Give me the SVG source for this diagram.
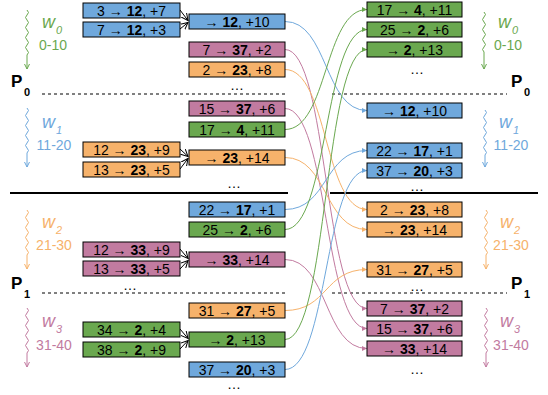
<svg xmlns="http://www.w3.org/2000/svg" width="548" height="395" viewBox="0 0 548 395">
<style>
text{font-family:"Liberation Sans",Arial,sans-serif;}
.bx text{font-size:14px;text-anchor:middle;fill:#000;}
.b{font-weight:bold;}
rect{stroke:#000;stroke-width:1;}
.blue rect{fill:#6fa8dc;}
.green rect{fill:#6aa84f;}
.orange rect{fill:#f6b26b;}
.pink rect{fill:#c27ba0;}
.c{fill:none;stroke-width:1;}
.cb{stroke:#6fa8dc;}.cg{stroke:#6aa84f;}.co{stroke:#f6b26b;}.cp{stroke:#c27ba0;}
.k{fill:none;stroke:#000;stroke-width:1;}
.dots{font-size:14px;text-anchor:middle;}
.P{font-size:17px;font-weight:bold;}
.Ps{font-size:11px;font-weight:bold;}
.w{font-size:18px;font-style:italic;}
.ws{font-size:11px;font-style:italic;}
.rng{font-size:14px;text-anchor:middle;}
.wave{fill:none;stroke-width:1;}
</style>
<defs>
<marker id="ab" markerWidth="6" markerHeight="6" refX="5" refY="3" orient="auto" markerUnits="userSpaceOnUse"><path d="M0,0.5 L5,3 L0,5.5 z" fill="#6fa8dc"/></marker>
<marker id="ag" markerWidth="6" markerHeight="6" refX="5" refY="3" orient="auto" markerUnits="userSpaceOnUse"><path d="M0,0.5 L5,3 L0,5.5 z" fill="#6aa84f"/></marker>
<marker id="ao" markerWidth="6" markerHeight="6" refX="5" refY="3" orient="auto" markerUnits="userSpaceOnUse"><path d="M0,0.5 L5,3 L0,5.5 z" fill="#f6b26b"/></marker>
<marker id="ap" markerWidth="6" markerHeight="6" refX="5" refY="3" orient="auto" markerUnits="userSpaceOnUse"><path d="M0,0.5 L5,3 L0,5.5 z" fill="#c27ba0"/></marker>
<marker id="ak" markerWidth="8" markerHeight="8" refX="7" refY="4" orient="auto" markerUnits="userSpaceOnUse"><path d="M0,0.5 L7,4 L0,7.5" fill="none" stroke="#000" stroke-width="1"/></marker>
<marker id="wb" markerWidth="6" markerHeight="6" refX="3" refY="5" orient="0" markerUnits="userSpaceOnUse"><path d="M0.5,0 L3,5 L5.5,0" fill="none" stroke="#6fa8dc"/></marker>
<marker id="wg" markerWidth="6" markerHeight="6" refX="3" refY="5" orient="0" markerUnits="userSpaceOnUse"><path d="M0.5,0 L3,5 L5.5,0" fill="none" stroke="#6aa84f"/></marker>
<marker id="wo" markerWidth="6" markerHeight="6" refX="3" refY="5" orient="0" markerUnits="userSpaceOnUse"><path d="M0.5,0 L3,5 L5.5,0" fill="none" stroke="#f6b26b"/></marker>
<marker id="wp" markerWidth="6" markerHeight="6" refX="3" refY="5" orient="0" markerUnits="userSpaceOnUse"><path d="M0.5,0 L3,5 L5.5,0" fill="none" stroke="#c27ba0"/></marker>
</defs>

<g id="separators">
<path d="M42,94 H288 M332,94 H507" stroke="#000" stroke-width="1" stroke-dasharray="3,3"/>
<path d="M10,193 H288 M330,193 H538" stroke="#000" stroke-width="2"/>
<path d="M42,293 H288 M332,293 H507" stroke="#000" stroke-width="1" stroke-dasharray="3,3"/>
</g>

<g id="P0-left"><text x="11" y="87" class="P">P</text><text x="24" y="96" class="Ps">0</text></g>
<g id="P0-right"><text x="511" y="87" class="P">P</text><text x="524" y="96" class="Ps">0</text></g>
<g id="P1-left"><text x="11" y="289" class="P">P</text><text x="24" y="298" class="Ps">1</text></g>
<g id="P1-right"><text x="511" y="289" class="P">P</text><text x="524" y="298" class="Ps">1</text></g>

<g id="w0-left" fill="#6aa84f">
<path d="M27,10 q3,2.5 0,5 q-3,2.5 0,5 q3,2.5 0,5 q-3,2.5 0,5 q3,2.5 0,5 q-3,2.5 0,5 q3,2.5 0,5 q-3,2.5 0,5 q3,2.5 0,5 L27,69" class="wave" stroke="#6aa84f" marker-end="url(#wg)"/>
<text x="42" y="28" class="w">w</text><text x="56" y="34" class="ws">0</text>
<text x="53" y="50" class="rng">0-10</text>
</g>
<g id="w0-right" fill="#6aa84f">
<path d="M484,12 q3,2.5 0,5 q-3,2.5 0,5 q3,2.5 0,5 q-3,2.5 0,5 q3,2.5 0,5 q-3,2.5 0,5 q3,2.5 0,5 q-3,2.5 0,5 L484,69" class="wave" stroke="#6aa84f" marker-end="url(#wg)"/>
<text x="498" y="28" class="w">w</text><text x="512" y="34" class="ws">0</text>
<text x="508" y="50" class="rng">0-10</text>
</g>
<g id="w1-left" fill="#6fa8dc">
<path d="M27,108 q3,2.5 0,5 q-3,2.5 0,5 q3,2.5 0,5 q-3,2.5 0,5 q3,2.5 0,5 q-3,2.5 0,5 q3,2.5 0,5 q-3,2.5 0,5 q3,2.5 0,5 L27,167" class="wave" stroke="#6fa8dc" marker-end="url(#wb)"/>
<text x="42" y="128" class="w">w</text><text x="56" y="134" class="ws">1</text>
<text x="54" y="150" class="rng">11-20</text>
</g>
<g id="w1-right" fill="#6fa8dc">
<path d="M485,110 q3,2.5 0,5 q-3,2.5 0,5 q3,2.5 0,5 q-3,2.5 0,5 q3,2.5 0,5 q-3,2.5 0,5 q3,2.5 0,5 q-3,2.5 0,5 q3,2.5 0,5 L485,167" class="wave" stroke="#6fa8dc" marker-end="url(#wb)"/>
<text x="499" y="128" class="w">w</text><text x="513" y="134" class="ws">1</text>
<text x="511" y="150" class="rng">11-20</text>
</g>
<g id="w2-left" fill="#f6b26b">
<path d="M27,210 q3,2.5 0,5 q-3,2.5 0,5 q3,2.5 0,5 q-3,2.5 0,5 q3,2.5 0,5 q-3,2.5 0,5 q3,2.5 0,5 q-3,2.5 0,5 q3,2.5 0,5 L27,269" class="wave" stroke="#f6b26b" marker-end="url(#wo)"/>
<text x="42" y="228" class="w">w</text><text x="56" y="234" class="ws">2</text>
<text x="54" y="250" class="rng">21-30</text>
</g>
<g id="w2-right" fill="#f6b26b">
<path d="M486,210 q3,2.5 0,5 q-3,2.5 0,5 q3,2.5 0,5 q-3,2.5 0,5 q3,2.5 0,5 q-3,2.5 0,5 q3,2.5 0,5 q-3,2.5 0,5 q3,2.5 0,5 L486,269" class="wave" stroke="#f6b26b" marker-end="url(#wo)"/>
<text x="500" y="228" class="w">w</text><text x="514" y="234" class="ws">2</text>
<text x="511" y="250" class="rng">21-30</text>
</g>
<g id="w3-left" fill="#c27ba0">
<path d="M27,308 q3,2.5 0,5 q-3,2.5 0,5 q3,2.5 0,5 q-3,2.5 0,5 q3,2.5 0,5 q-3,2.5 0,5 q3,2.5 0,5 q-3,2.5 0,5 q3,2.5 0,5 L27,367" class="wave" stroke="#c27ba0" marker-end="url(#wp)"/>
<text x="42" y="327" class="w">w</text><text x="56" y="333" class="ws">3</text>
<text x="54" y="350" class="rng">31-40</text>
</g>
<g id="w3-right" fill="#c27ba0">
<path d="M486,308 q3,2.5 0,5 q-3,2.5 0,5 q3,2.5 0,5 q-3,2.5 0,5 q3,2.5 0,5 q-3,2.5 0,5 q3,2.5 0,5 q-3,2.5 0,5 q3,2.5 0,5 L486,367" class="wave" stroke="#c27ba0" marker-end="url(#wp)"/>
<text x="500" y="327" class="w">w</text><text x="514" y="333" class="ws">3</text>
<text x="511" y="350" class="rng">31-40</text>
</g>

<g id="connectors">
<path class="k" d="M180,10 L188,20.5" marker-end="url(#ak)"/>
<path class="k" d="M180,29 L188,22.5" marker-end="url(#ak)"/>
<path class="k" d="M180,149 L188,156.5" marker-end="url(#ak)"/>
<path class="k" d="M180,169 L188,158.5" marker-end="url(#ak)"/>
<path class="k" d="M180,249 L188,258.5" marker-end="url(#ak)"/>
<path class="k" d="M180,269 L188,260.5" marker-end="url(#ak)"/>
<path class="k" d="M180,329 L188,338.5" marker-end="url(#ak)"/>
<path class="k" d="M180,349 L188,340.5" marker-end="url(#ak)"/>

<path class="c cb" d="M285,21.5 C328,21.5 324,110.5 367,110.5" marker-end="url(#ab)"/>
<path class="c cp" d="M285,49.5 C328,49.5 324,308.5 367,308.5" marker-end="url(#ap)"/>
<path class="c co" d="M285,69.5 C328,69.5 324,209.5 367,209.5" marker-end="url(#ao)"/>
<path class="c cp" d="M285,108.5 C328,108.5 324,328.5 367,328.5" marker-end="url(#ap)"/>
<path class="c cg" d="M285,129.5 C328,129.5 324,9.5 367,9.5" marker-end="url(#ag)"/>
<path class="c co" d="M285,157.5 C328,157.5 324,229.5 367,229.5" marker-end="url(#ao)"/>
<path class="c cb" d="M285,209.5 C328,209.5 324,150.5 367,150.5" marker-end="url(#ab)"/>
<path class="c cg" d="M285,229.5 C328,229.5 324,29.5 367,29.5" marker-end="url(#ag)"/>
<path class="c cp" d="M285,259.5 C328,259.5 324,348.5 367,348.5" marker-end="url(#ap)"/>
<path class="c co" d="M285,310.5 C328,310.5 324,269.5 367,269.5" marker-end="url(#ao)"/>
<path class="c cg" d="M285,339.5 C328,339.5 324,49.5 367,49.5" marker-end="url(#ag)"/>
<path class="c cb" d="M285,369.5 C328,369.5 324,170.5 367,170.5" marker-end="url(#ab)"/>
</g>

<g id="L1" class="bx blue"><rect x="83" y="3" width="97" height="15"/><text x="131.5" y="15.5">3 → <tspan class="b">12</tspan>, +7</text></g>
<g id="L2" class="bx blue"><rect x="83" y="22" width="97" height="15"/><text x="131.5" y="34.5">7 → <tspan class="b">12</tspan>, +3</text></g>
<g id="L3" class="bx orange"><rect x="83" y="142" width="97" height="15"/><text x="131.5" y="154.5">12 → <tspan class="b">23</tspan>, +9</text></g>
<g id="L4" class="bx orange"><rect x="83" y="162" width="97" height="15"/><text x="131.5" y="174.5">13 → <tspan class="b">23</tspan>, +5</text></g>
<g id="L5" class="bx pink"><rect x="83" y="242" width="97" height="15"/><text x="131.5" y="254.5">12 → <tspan class="b">33</tspan>, +9</text></g>
<g id="L6" class="bx pink"><rect x="83" y="261" width="97" height="15"/><text x="131.5" y="273.5">13 → <tspan class="b">33</tspan>, +5</text></g>
<g id="L7" class="bx green"><rect x="83" y="322" width="97" height="15"/><text x="131.5" y="334.5">34 → <tspan class="b">2</tspan>, +4</text></g>
<g id="L8" class="bx green"><rect x="83" y="342" width="97" height="15"/><text x="131.5" y="354.5">38 → <tspan class="b">2</tspan>, +9</text></g>

<g id="M1" class="bx blue"><rect x="189" y="14" width="96" height="15"/><text x="237" y="26.5">→ <tspan class="b">12</tspan>, +10</text></g>
<g id="M2" class="bx pink"><rect x="189" y="42" width="96" height="15"/><text x="237" y="54.5">7 → <tspan class="b">37</tspan>, +2</text></g>
<g id="M3" class="bx orange"><rect x="189" y="62" width="96" height="15"/><text x="237" y="74.5">2 → <tspan class="b">23</tspan>, +8</text></g>
<g id="M4" class="bx pink"><rect x="189" y="101" width="96" height="15"/><text x="237" y="113.5">15 → <tspan class="b">37</tspan>, +6</text></g>
<g id="M5" class="bx green"><rect x="189" y="122" width="96" height="15"/><text x="237" y="134.5">17 → <tspan class="b">4</tspan>, +11</text></g>
<g id="M6" class="bx orange"><rect x="189" y="150" width="96" height="15"/><text x="237" y="162.5">→ <tspan class="b">23</tspan>, +14</text></g>
<g id="M7" class="bx blue"><rect x="189" y="202" width="96" height="15"/><text x="237" y="214.5">22 → <tspan class="b">17</tspan>, +1</text></g>
<g id="M8" class="bx green"><rect x="189" y="222" width="96" height="15"/><text x="237" y="234.5">25 → <tspan class="b">2</tspan>, +6</text></g>
<g id="M9" class="bx pink"><rect x="189" y="252" width="96" height="15"/><text x="237" y="264.5">→ <tspan class="b">33</tspan>, +14</text></g>
<g id="M10" class="bx orange"><rect x="189" y="303" width="96" height="15"/><text x="237" y="315.5">31 → <tspan class="b">27</tspan>, +5</text></g>
<g id="M11" class="bx green"><rect x="189" y="332" width="96" height="15"/><text x="237" y="344.5">→ <tspan class="b">2</tspan>, +13</text></g>
<g id="M12" class="bx blue"><rect x="189" y="362" width="96" height="15"/><text x="237" y="374.5">37 → <tspan class="b">20</tspan>, +3</text></g>

<g id="R1" class="bx green"><rect x="367" y="2" width="95" height="15"/><text x="414.5" y="14.5">17 → <tspan class="b">4</tspan>, +11</text></g>
<g id="R2" class="bx green"><rect x="367" y="22" width="95" height="15"/><text x="414.5" y="34.5">25 → <tspan class="b">2</tspan>, +6</text></g>
<g id="R3" class="bx green"><rect x="367" y="42" width="95" height="15"/><text x="414.5" y="54.5">→ <tspan class="b">2</tspan>, +13</text></g>
<g id="R4" class="bx blue"><rect x="367" y="103" width="95" height="15"/><text x="414.5" y="115.5">→ <tspan class="b">12</tspan>, +10</text></g>
<g id="R5" class="bx blue"><rect x="367" y="143" width="95" height="15"/><text x="414.5" y="155.5">22 → <tspan class="b">17</tspan>, +1</text></g>
<g id="R6" class="bx blue"><rect x="367" y="163" width="95" height="15"/><text x="414.5" y="175.5">37 → <tspan class="b">20</tspan>, +3</text></g>
<g id="R7" class="bx orange"><rect x="367" y="202" width="95" height="15"/><text x="414.5" y="214.5">2 → <tspan class="b">23</tspan>, +8</text></g>
<g id="R8" class="bx orange"><rect x="367" y="222" width="95" height="15"/><text x="414.5" y="234.5">→ <tspan class="b">23</tspan>, +14</text></g>
<g id="R9" class="bx orange"><rect x="367" y="262" width="95" height="15"/><text x="414.5" y="274.5">31 → <tspan class="b">27</tspan>, +5</text></g>
<g id="R10" class="bx pink"><rect x="367" y="301" width="95" height="15"/><text x="414.5" y="313.5">7 → <tspan class="b">37</tspan>, +2</text></g>
<g id="R11" class="bx pink"><rect x="367" y="321" width="95" height="15"/><text x="414.5" y="333.5">15 → <tspan class="b">37</tspan>, +6</text></g>
<g id="R12" class="bx pink"><rect x="367" y="341" width="95" height="15"/><text x="414.5" y="353.5">→ <tspan class="b">33</tspan>, +14</text></g>

<g id="ellipses" class="dots">
<text x="237" y="90" class="dots">…</text>
<text x="234" y="188" class="dots">…</text>
<text x="130" y="290" class="dots">…</text>
<text x="234" y="389" class="dots">…</text>
<text x="417" y="74" class="dots">…</text>
<text x="417" y="191" class="dots">…</text>
<text x="417" y="291" class="dots">…</text>
<text x="417" y="374" class="dots">…</text>
</g>
</svg>
